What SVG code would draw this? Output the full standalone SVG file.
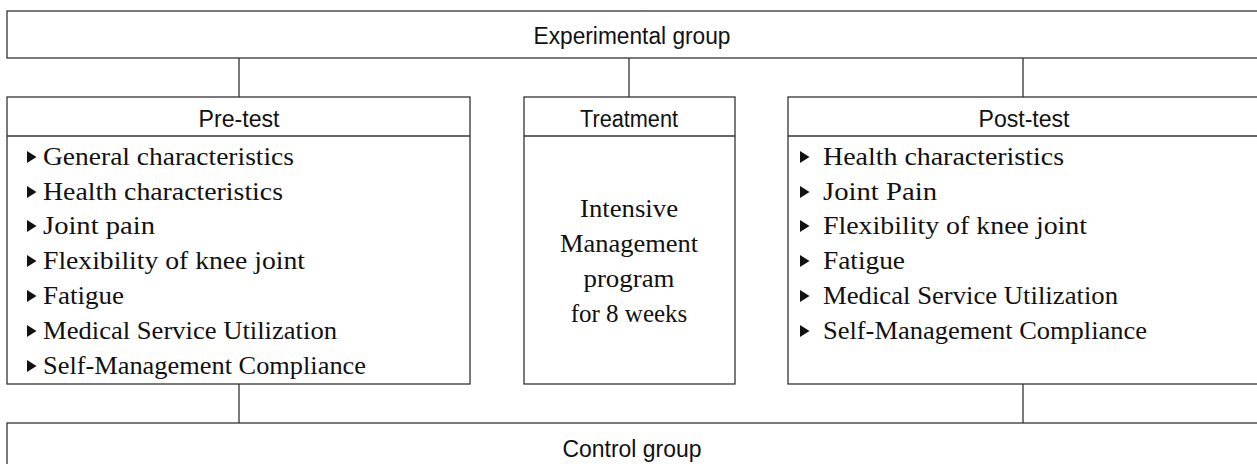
<svg xmlns="http://www.w3.org/2000/svg" width="1257" height="464" viewBox="0 0 1257 464">
<style>
.box{fill:#fff;stroke:#333;stroke-width:1.3}
.ln{stroke:#333;stroke-width:1.3;fill:none}
.hd{font-family:"Liberation Sans",Arial,sans-serif;font-size:23px;fill:#111;text-anchor:middle}
.it{font-family:"Liberation Serif","Times New Roman",serif;font-size:25px;fill:#111}
.tc{font-family:"Liberation Serif","Times New Roman",serif;font-size:25px;fill:#111;text-anchor:middle}
</style>
<defs>
<path id="tri" d="M0,-6 L9.5,0 L0,6 Z" fill="#111"/>
</defs>
<g id="connectors">
<line class="ln" x1="239" y1="58" x2="239" y2="97"/>
<line class="ln" x1="629" y1="58" x2="629" y2="97"/>
<line class="ln" x1="1023" y1="58" x2="1023" y2="97"/>
<line class="ln" x1="239" y1="384" x2="239" y2="423"/>
<line class="ln" x1="1023" y1="384" x2="1023" y2="423"/>
</g>
<g id="experimental">
<rect class="box" x="7" y="11" width="1256" height="47"/>
<text class="hd" x="632" y="44" textLength="197" lengthAdjust="spacingAndGlyphs">Experimental group</text>
</g>
<g id="pretest">
<rect class="box" x="7" y="97" width="463" height="287"/>
<line class="ln" x1="7" y1="136" x2="470" y2="136"/>
<text class="hd" x="239" y="127" textLength="81" lengthAdjust="spacingAndGlyphs">Pre-test</text>
<use href="#tri" x="27" y="157"/>
<text class="it" x="43" y="165" textLength="251" lengthAdjust="spacingAndGlyphs">General characteristics</text>
<use href="#tri" x="27" y="192"/>
<text class="it" x="43" y="200" textLength="240" lengthAdjust="spacingAndGlyphs">Health characteristics</text>
<use href="#tri" x="27" y="226"/>
<text class="it" x="43" y="234" textLength="112" lengthAdjust="spacingAndGlyphs">Joint pain</text>
<use href="#tri" x="27" y="261"/>
<text class="it" x="43" y="269" textLength="262" lengthAdjust="spacingAndGlyphs">Flexibility of knee joint</text>
<use href="#tri" x="27" y="296"/>
<text class="it" x="43" y="304" textLength="81" lengthAdjust="spacingAndGlyphs">Fatigue</text>
<use href="#tri" x="27" y="331"/>
<text class="it" x="43" y="339" textLength="294" lengthAdjust="spacingAndGlyphs">Medical Service Utilization</text>
<use href="#tri" x="27" y="366"/>
<text class="it" x="43" y="374" textLength="323" lengthAdjust="spacingAndGlyphs">Self-Management Compliance</text>
</g>
<g id="treatment">
<rect class="box" x="524" y="97" width="211" height="287"/>
<line class="ln" x1="524" y1="136" x2="735" y2="136"/>
<text class="hd" x="629" y="127" textLength="98" lengthAdjust="spacingAndGlyphs">Treatment</text>
<text class="tc" x="629" y="217" textLength="98" lengthAdjust="spacingAndGlyphs">Intensive</text>
<text class="tc" x="629" y="252" textLength="138" lengthAdjust="spacingAndGlyphs">Management</text>
<text class="tc" x="629" y="287" textLength="91" lengthAdjust="spacingAndGlyphs">program</text>
<text class="tc" x="629" y="322">for 8 weeks</text>
</g>
<g id="posttest">
<rect class="box" x="788" y="97" width="475" height="287"/>
<line class="ln" x1="788" y1="136" x2="1263" y2="136"/>
<text class="hd" x="1024" y="127" textLength="91" lengthAdjust="spacingAndGlyphs">Post-test</text>
<use href="#tri" x="800" y="157"/>
<text class="it" x="823" y="165" textLength="241" lengthAdjust="spacingAndGlyphs">Health characteristics</text>
<use href="#tri" x="800" y="192"/>
<text class="it" x="823" y="200" textLength="114" lengthAdjust="spacingAndGlyphs">Joint Pain</text>
<use href="#tri" x="800" y="226"/>
<text class="it" x="823" y="234" textLength="264" lengthAdjust="spacingAndGlyphs">Flexibility of knee joint</text>
<use href="#tri" x="800" y="261"/>
<text class="it" x="823" y="269" textLength="82" lengthAdjust="spacingAndGlyphs">Fatigue</text>
<use href="#tri" x="800" y="296"/>
<text class="it" x="823" y="304" textLength="295" lengthAdjust="spacingAndGlyphs">Medical Service Utilization</text>
<use href="#tri" x="800" y="331"/>
<text class="it" x="823" y="339" textLength="324" lengthAdjust="spacingAndGlyphs">Self-Management Compliance</text>
</g>
<g id="control">
<rect class="box" x="7" y="423" width="1256" height="60"/>
<text class="hd" x="632" y="457" textLength="139" lengthAdjust="spacingAndGlyphs">Control group</text>
</g>
</svg>
